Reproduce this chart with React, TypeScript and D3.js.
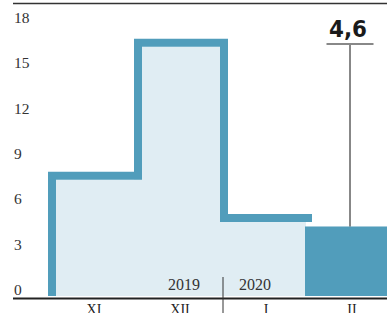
import React from "react";
import * as d3 from "d3";

const months = ["XI", "XII", "I", "II"];
const values = [7.7, 16.5, 4.9, 4.6];
const yTicks = [0, 3, 6, 9, 12, 15, 18];
const years = ["2019", "2020"];

const W = 387;
const H = 313;
const BLUE = "#519dbb";
const LIGHT = "#e0edf3";
const SW = 8; // outline width

export default function App() {
  const x = d3.scaleBand<string>().domain(months).range([48, 48 + 86 * 4]).padding(0);
  const y = d3.scaleLinear().domain([0, 18]).range([296, 24]);
  const bw = x.bandwidth();
  const off = SW / 2;

  // history months drawn as a step outline, the last month as a solid bar
  const hist = months.slice(0, 3).map((m, i) => ({ x: x(m)!, v: values[i] }));
  const last = months.length - 1;
  const lastX = x(months[last])!;
  const lastV = values[last];

  const fillPts = [...hist, { x: lastX, v: hist[hist.length - 1].v }];
  const area = d3
    .area<{ x: number; v: number }>()
    .curve(d3.curveStepAfter)
    .x((d) => d.x)
    .y0(y(0))
    .y1((d) => y(d.v))(fillPts);

  const linePts: [number, number][] = [
    [hist[0].x + off, y(0)],
    ...hist.map((d) => [d.x + off, y(d.v) - off] as [number, number]),
    [lastX + off + 2, y(hist[hist.length - 1].v) - off],
  ];
  const outline = d3.line().curve(d3.curveStepAfter)(linePts);

  const divX = x("I")! + 3;
  const labelX = lastX + bw / 2 + 1;
  const fmt = (v: number) => d3.format(".1f")(v).replace(".", ",");

  return (
    <svg
      width={W}
      height={H}
      style={{ position: "absolute", left: 0, top: 0 }}
      fontFamily="'Liberation Serif', serif"
    >
      <line x1={13} x2={W} y1={3.5} y2={3.5} stroke="#333" strokeWidth={1.5} />

      {yTicks.map((t) => (
        <text key={t} x={14} y={y(t) - 1} fontSize={15.5} fill="#333">
          {t}
        </text>
      ))}

      <path d={area!} fill={LIGHT} />
      <rect x={lastX - 1} y={y(lastV)} width={bw + 1} height={y(0) - y(lastV)} fill={BLUE} />
      <path d={outline!} fill="none" stroke={BLUE} strokeWidth={SW} strokeLinejoin="miter" />

      <line x1={13} x2={W} y1={298.5} y2={298.5} stroke="#222" strokeWidth={2} />

      {months.map((m) => (
        <text key={m} x={x(m)! + bw / 2 + 3} y={314} fontSize={14} textAnchor="middle" fill="#222">
          {m}
        </text>
      ))}

      <line x1={divX} x2={divX} y1={277} y2={H} stroke="#333" strokeWidth={1} />
      <text x={divX - 23} y={290} fontSize={16} textAnchor="end" fill="#333">
        {years[0]}
      </text>
      <text x={divX + 16} y={290} fontSize={16} textAnchor="start" fill="#333">
        {years[1]}
      </text>

      <line x1={labelX} x2={labelX} y1={44} y2={y(lastV)} stroke="#111" strokeWidth={1} />
      <line x1={labelX - 23.5} x2={labelX + 23.5} y1={44} y2={44} stroke="#888" strokeWidth={2} />
      <text
        x={labelX - 2}
        y={37}
        fontSize={23}
        fontWeight="bold"
        fontFamily="'DejaVu Sans', sans-serif"
        textAnchor="middle"
        textLength={38}
        lengthAdjust="spacingAndGlyphs"
        fill="#1a1a1a"
      >
        {fmt(lastV)}
      </text>
    </svg>
  );
}
